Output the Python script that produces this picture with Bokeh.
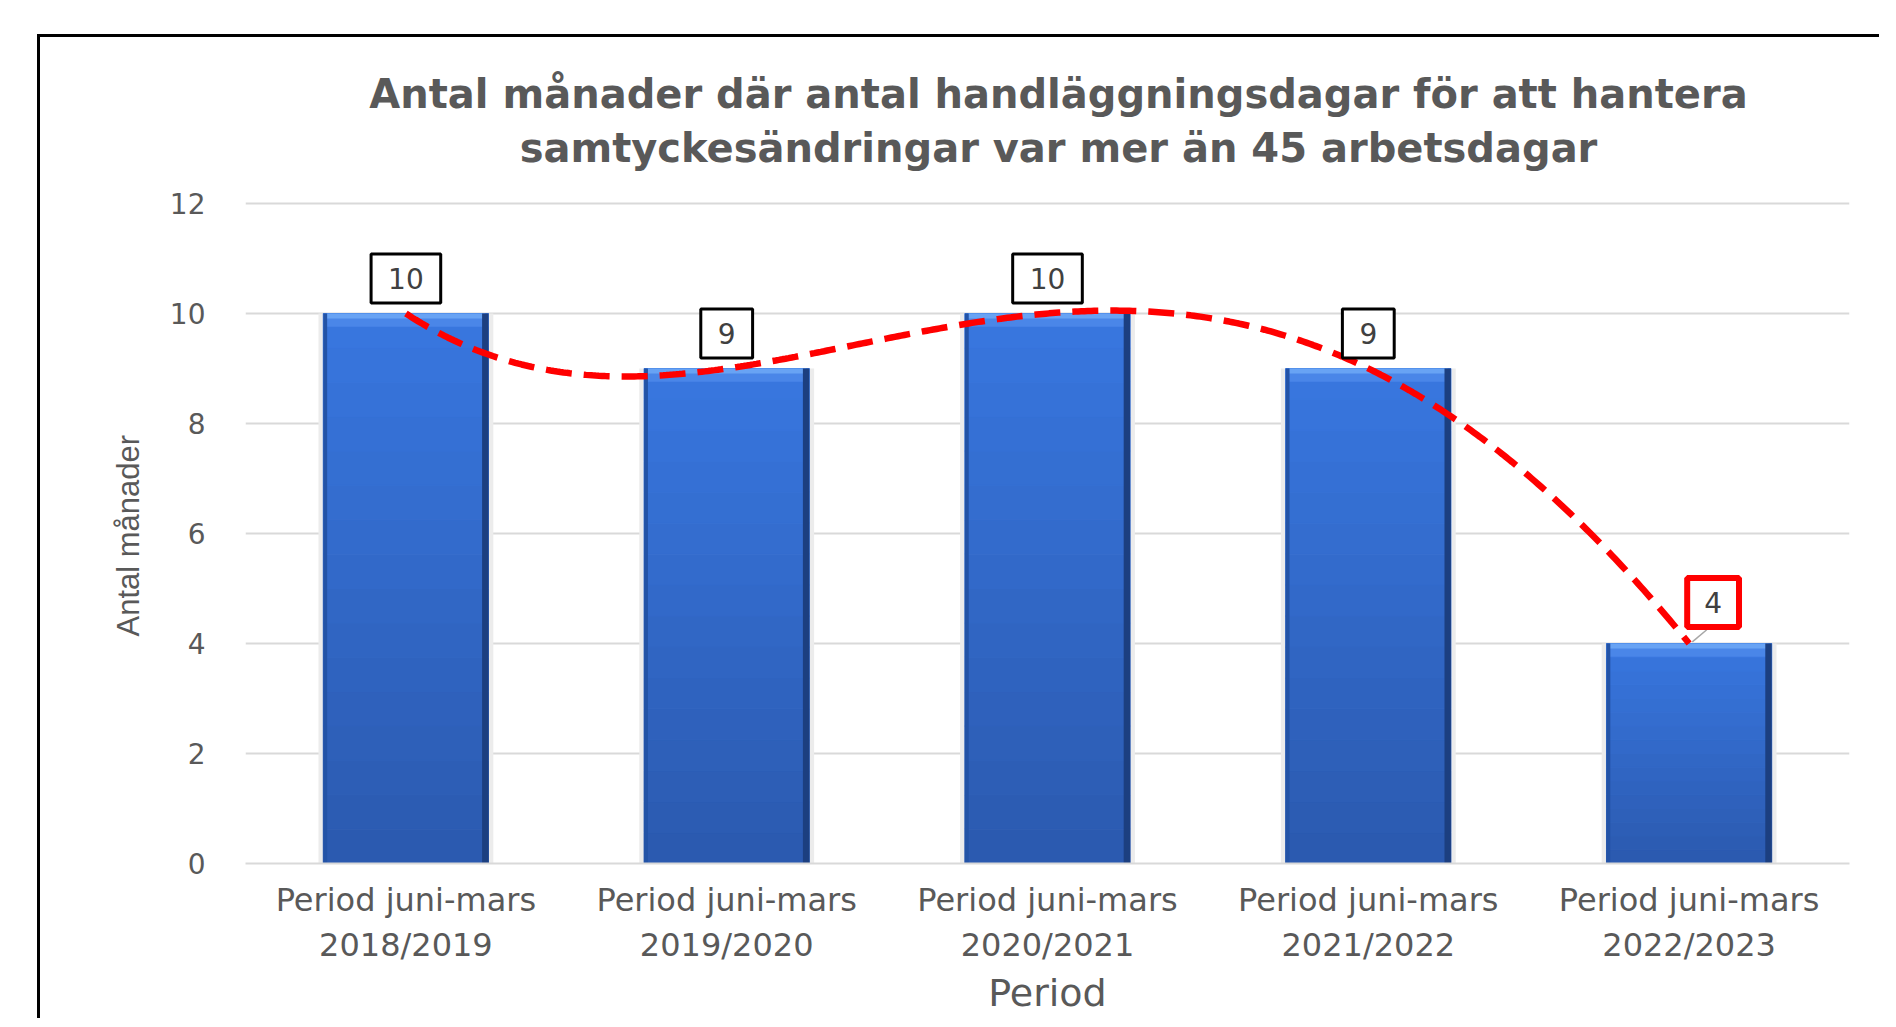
import numpy as np
from bokeh.plotting import figure
from bokeh.models import Label, FixedTicker, Range1d, Title
from bokeh.embed import file_html
from bokeh.resources import INLINE

# ---- data ----
categories = [
    "Period juni-mars\n2018/2019",
    "Period juni-mars\n2019/2020",
    "Period juni-mars\n2020/2021",
    "Period juni-mars\n2021/2022",
    "Period juni-mars\n2022/2023",
]
values = [10, 9, 10, 9, 4]
y_ticks = [0, 2, 4, 6, 8, 10, 12]
title_lines = [
    "Antal månader där antal handläggningsdagar för att hantera",
    "samtyckesändringar var mer än 45 arbetsdagar",
]
x_label = "Period"
y_label = "Antal månader"

x = np.arange(1, len(values) + 1, dtype=float)
v = np.array(values, dtype=float)

TXT = "#595959"

# plot area: 660 px for 0..12, plus 166 px of headroom for the title
AX_H = 660
HEAD = 166
y_max = max(y_ticks)
y_end = y_max * (AX_H + HEAD) / AX_H

p = figure(
    frame_width=1604, frame_height=AX_H + HEAD,
    x_range=Range1d(0.5, len(values) + 0.5), y_range=Range1d(0, y_end),
    output_backend="svg", toolbar_location=None,
    min_border_left=205, min_border_top=0, min_border_right=30, min_border_bottom=145,
)
p.styles = {"margin-left": "37px", "margin-top": "34px",
            "border-left": "3px solid black", "border-top": "3px solid black"}
p.outline_line_color = None
p.background_fill_color = "white"
p.border_fill_color = "white"

# axes
p.xgrid.visible = False
p.ygrid.ticker = FixedTicker(ticks=y_ticks)
p.ygrid.grid_line_color = "#d9d9d9"
p.ygrid.grid_line_width = 2

p.yaxis.ticker = FixedTicker(ticks=y_ticks)
p.yaxis.axis_line_color = None
p.yaxis.major_tick_line_color = None
p.yaxis.minor_tick_line_color = None
p.yaxis.major_tick_out = 0
p.yaxis.major_tick_in = 0
p.yaxis.major_label_standoff = 40
p.yaxis.major_label_text_font = "DejaVu Sans"
p.yaxis.major_label_text_font_size = "28px"
p.yaxis.major_label_text_color = TXT
p.yaxis.axis_label = None

# y-axis title, placed beside the 0..12 value span (bottom-anchored)
p.add_layout(Title(
    text=y_label, align="left", offset=227, standoff=42,
    text_font="Liberation Sans", text_font_style="normal",
    text_font_size="31px", text_color=TXT,
), "left")

p.xaxis.ticker = FixedTicker(ticks=list(x))
p.xaxis.major_label_overrides = {float(xi): c for xi, c in zip(x, categories)}
p.xaxis.axis_line_color = "#d9d9d9"
p.xaxis.axis_line_width = 2
p.xaxis.major_tick_line_color = None
p.xaxis.minor_tick_line_color = None
p.xaxis.major_tick_out = 0
p.xaxis.major_tick_in = 0
p.xaxis.major_label_standoff = 17
p.xaxis.major_label_text_font = "DejaVu Sans"
p.xaxis.major_label_text_font_size = "32px"
p.xaxis.major_label_text_color = TXT
p.xaxis.axis_label = x_label
p.xaxis.axis_label_text_font = "DejaVu Sans"
p.xaxis.axis_label_text_font_style = "normal"
p.xaxis.axis_label_text_font_size = "38px"
p.xaxis.axis_label_text_color = TXT
p.xaxis.axis_label_standoff = 4

# ---- bars (with a simple vertical shading) ----
bar_w = 0.515
left = x - bar_w / 2
right = x + bar_w / 2

# soft shadow
p.vbar(x=x, top=v, width=bar_w + 0.03, fill_color="#ececec", line_color=None)

def mix(c1, c2, t):
    a = [int(c1[i:i + 2], 16) for i in (1, 3, 5)]
    b = [int(c2[i:i + 2], 16) for i in (1, 3, 5)]
    return "#%02x%02x%02x" % tuple(int(round(a[k] + (b[k] - a[k]) * t)) for k in range(3))

N = 16
bl, bt, bL, bR, bc = [], [], [], [], []
for i in range(len(v)):
    for k in range(N):
        bl.append(v[i] * k / N)
        bt.append(v[i] * (k + 1) / N)
        bL.append(left[i])
        bR.append(right[i])
        bc.append(mix("#2b59ae", "#3877e0", (k + 0.5) / N))
p.quad(left=bL, right=bR, bottom=bl, top=bt, fill_color=bc, line_color=bc, line_width=1)

# top bevel
p.quad(left=left, right=right, bottom=v - 0.24, top=v, fill_color="#4a86e8", line_color=None)
p.quad(left=left + 0.01, right=right - 0.01, bottom=v - 0.09, top=v, fill_color="#68a3f4", line_color=None)
# side edges
p.quad(left=left, right=left + 0.012, bottom=np.zeros_like(v), top=v, fill_color="#2353a6", line_color=None)
p.quad(left=right - 0.02, right=right, bottom=np.zeros_like(v), top=v, fill_color="#1c3f80", line_color=None)

# ---- trendline (polynomial, order 4) ----
coef = np.polyfit(x, v, 4)
xs = np.linspace(x[0], x[-1], 400)
ys = np.polyval(coef, xs)
p.line(xs, ys, line_color="#ff0000", line_width=6.5, line_dash="26 12")

# leader line for last label
p.segment(x0=[x[-1] + 0.01], y0=[v[-1] + 0.03], x1=[x[-1] + 0.055], y1=[v[-1] + 0.25],
          line_color="#a6a6a6", line_width=1.5)

# ---- data labels ----
for i, (xi, vi) in enumerate(zip(x, values)):
    last = i == len(values) - 1
    p.add_layout(Label(
        x=float(xi), y=float(vi),
        x_offset=24 if last else 0, y_offset=41 if last else 35,
        text=str(vi), text_align="center", text_baseline="middle",
        text_font="DejaVu Sans", text_font_size="28px", text_color="#404040",
        background_fill_color="white",
        border_line_color="#ff0000" if last else "black",
        border_line_width=6 if last else 3,
        padding=dict(left=17, right=17, top=14, bottom=14),
    ))

# ---- title (two centred lines) ----
for line, off in zip(title_lines, [110, 56]):
    p.add_layout(Label(
        x=float(np.mean(x)), y=y_max, x_offset=11, y_offset=off,
        text=line, text_align="center", text_baseline="middle",
        text_font="DejaVu Sans", text_font_style="bold", text_font_size="40px",
        text_color=TXT,
    ))

open("out.html", "w").write(file_html(p, INLINE))
